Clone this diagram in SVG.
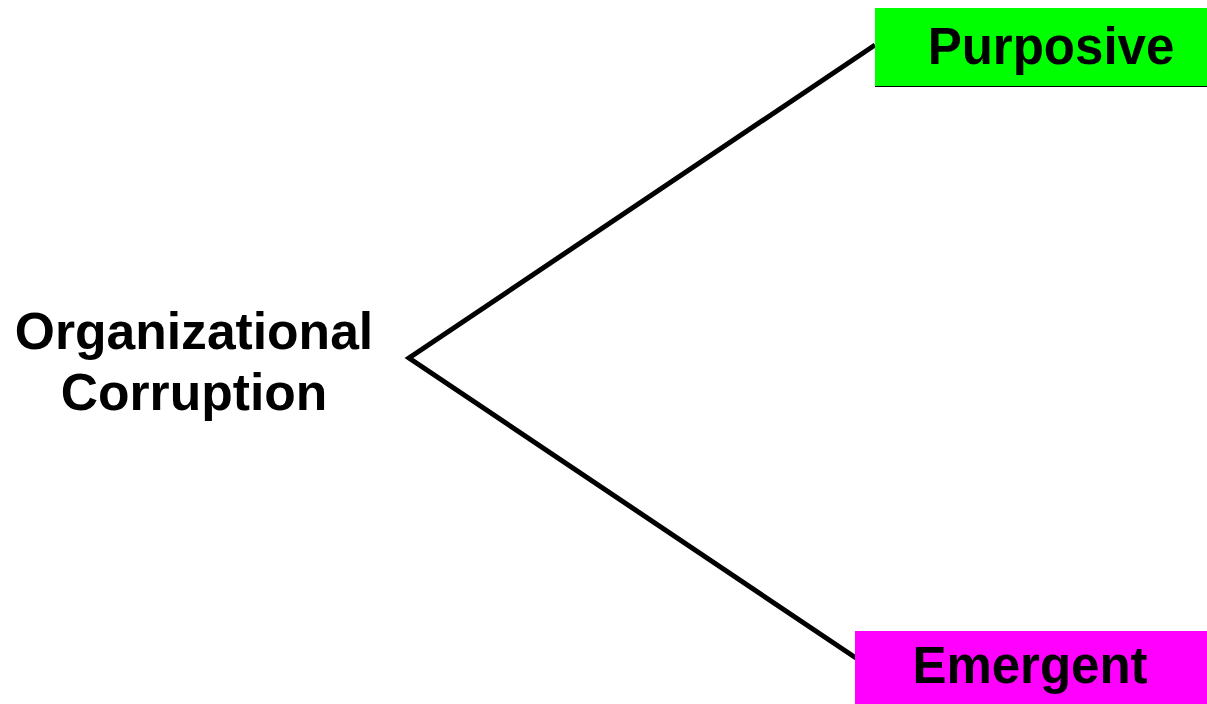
<svg xmlns="http://www.w3.org/2000/svg" width="1207" height="704" viewBox="0 0 1207 704">
<style>
text{font-family:"Liberation Sans",Arial,sans-serif;font-weight:bold;fill:#000}
.conn{stroke:#000;stroke-width:5;fill:none;stroke-linejoin:miter}
</style>
<rect width="1207" height="704" fill="#fff"/>
<g id="connectors">
<polyline class="conn" points="875,45 409,358 856,658"/>
</g>
<g id="root">
<text x="194" y="349" font-size="51.6" text-anchor="middle">Organizational</text>
<text x="194" y="410" font-size="51.6" text-anchor="middle">Corruption</text>
</g>
<g id="purposive">
<rect x="875" y="8" width="332" height="78" fill="#00ff00"/>
<line x1="875" y1="86.5" x2="1207" y2="86.5" stroke="#000" stroke-width="1"/>
<text x="1051" y="64" font-size="51" text-anchor="middle">Purposive</text>
</g>
<g id="emergent">
<rect x="855" y="631" width="352" height="73" fill="#ff00ff"/>
<text x="1030" y="683" font-size="51" text-anchor="middle">Emergent</text>
</g>
</svg>
